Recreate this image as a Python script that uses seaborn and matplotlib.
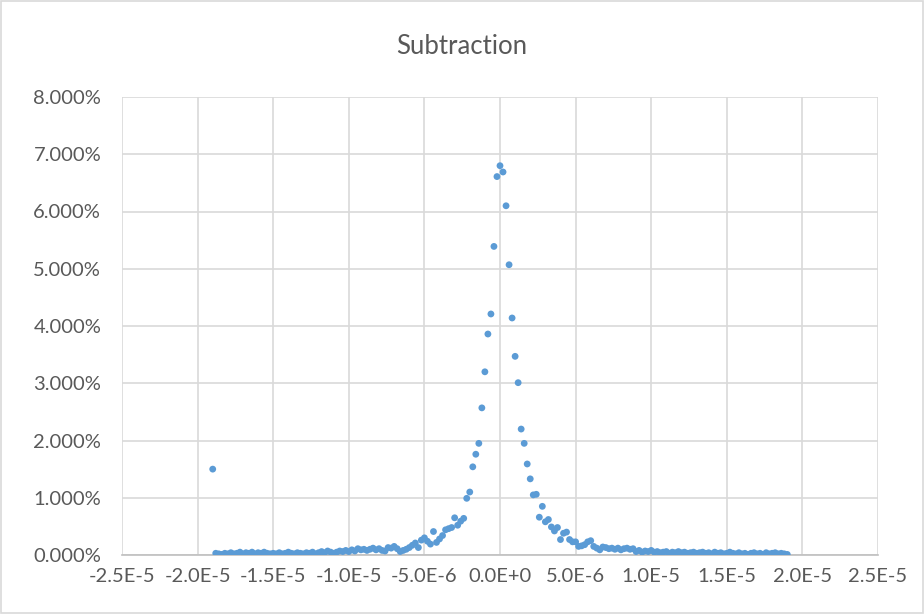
import matplotlib
matplotlib.use("Agg")
import matplotlib.pyplot as plt
import seaborn as sns
import pandas as pd
from matplotlib.patches import Rectangle

# ---- data (x in units of 1E-6, y in percent) ----
outlier_x = [-19.0]
outlier_y = [1.50]

left_tail_x = [-18.8, -18.6, -18.4, -18.2, -18.0, -17.8, -17.6, -17.4, -17.2, -17.0,
               -16.8, -16.6, -16.4, -16.2, -16.0, -15.8, -15.6, -15.4, -15.2, -15.0,
               -14.8, -14.6, -14.4, -14.2, -14.0, -13.8, -13.6, -13.4, -13.2, -13.0,
               -12.8, -12.6, -12.4, -12.2, -12.0, -11.8, -11.6, -11.4, -11.2, -11.0,
               -10.8, -10.6, -10.4, -10.2, -10.0, -9.8, -9.6, -9.4, -9.2, -9.0,
               -8.8, -8.6, -8.4, -8.2, -8.0, -7.8, -7.6, -7.4, -7.2, -7.0,
               -6.8, -6.6]
left_tail_y = [0.03, 0.02, 0.01, 0.03, 0.02, 0.04, 0.02, 0.03, 0.05, 0.02,
               0.04, 0.03, 0.05, 0.02, 0.04, 0.03, 0.05, 0.03, 0.02, 0.03,
               0.02, 0.04, 0.02, 0.03, 0.05, 0.03, 0.02, 0.04, 0.03, 0.02,
               0.04, 0.03, 0.05, 0.02, 0.04, 0.06, 0.04, 0.07, 0.05, 0.03,
               0.05, 0.07, 0.06, 0.08, 0.06, 0.09, 0.07, 0.11, 0.09, 0.10,
               0.08, 0.10, 0.12, 0.09, 0.11, 0.08, 0.07, 0.13, 0.12, 0.15,
               0.11, 0.06]

center_x = [-6.4, -6.2, -6.0, -5.8, -5.6, -5.4, -5.2, -5.0, -4.8, -4.6,
            -4.4, -4.2, -4.0, -3.8, -3.6, -3.4, -3.2, -3.0, -2.8, -2.6,
            -2.4, -2.2, -2.0, -1.8, -1.6, -1.4, -1.2, -1.0, -0.8, -0.6,
            -0.4, -0.2, 0.0, 0.2, 0.4, 0.6, 0.8, 1.0, 1.2, 1.4,
            1.6, 1.8, 2.0, 2.2, 2.4, 2.6, 2.8, 3.0, 3.2, 3.4,
            3.6, 3.8, 4.0, 4.2, 4.4, 4.6, 4.8, 5.0, 5.2, 5.4,
            5.6, 5.8, 6.0, 6.2, 6.4, 6.6]
center_y = [0.08, 0.10, 0.13, 0.17, 0.21, 0.13, 0.26, 0.30, 0.24, 0.19,
            0.41, 0.22, 0.28, 0.34, 0.44, 0.46, 0.48, 0.65, 0.52, 0.59,
            0.64, 0.99, 1.10, 1.54, 1.76, 1.95, 2.57, 3.20, 3.86, 4.21,
            5.39, 6.61, 6.80, 6.69, 6.10, 5.07, 4.14, 3.47, 3.01, 2.20,
            1.95, 1.59, 1.33, 1.05, 1.06, 0.66, 0.85, 0.58, 0.62, 0.49,
            0.42, 0.48, 0.27, 0.38, 0.40, 0.27, 0.23, 0.23, 0.15, 0.16,
            0.18, 0.23, 0.25, 0.15, 0.12, 0.09]

right_tail_x = [6.8, 7.0, 7.2, 7.4, 7.6, 7.8, 8.0, 8.2, 8.4, 8.6,
                8.8, 9.0, 9.2, 9.4, 9.6, 9.8, 10.0, 10.2, 10.4, 10.6,
                10.8, 11.0, 11.2, 11.4, 11.6, 11.8, 12.0, 12.2, 12.4, 12.6,
                12.8, 13.0, 13.2, 13.4, 13.6, 13.8, 14.0, 14.2, 14.4, 14.6,
                14.8, 15.0, 15.2, 15.4, 15.6, 15.8, 16.0, 16.2, 16.4, 16.6,
                16.8, 17.0, 17.2, 17.4, 17.6, 17.8, 18.0, 18.2, 18.4, 18.6,
                18.8, 19.0]
right_tail_y = [0.14, 0.13, 0.11, 0.12, 0.10, 0.12, 0.09, 0.11, 0.12, 0.10,
                0.11, 0.06, 0.08, 0.05, 0.07, 0.06, 0.08, 0.05, 0.06, 0.04,
                0.05, 0.06, 0.03, 0.05, 0.04, 0.06, 0.04, 0.05, 0.03, 0.04,
                0.05, 0.03, 0.04, 0.05, 0.03, 0.04, 0.02, 0.05, 0.03, 0.04,
                0.02, 0.03, 0.05, 0.03, 0.02, 0.04, 0.02, 0.03, 0.01, 0.03,
                0.04, 0.02, 0.03, 0.01, 0.04, 0.02, 0.03, 0.04, 0.02, 0.03,
                0.02, 0.01]

x_ticks = [-2.5e-5, -2.0e-5, -1.5e-5, -1.0e-5, -5.0e-6, 0.0, 5.0e-6, 1.0e-5, 1.5e-5, 2.0e-5, 2.5e-5]
x_tick_labels = ["-2.5E-5", "-2.0E-5", "-1.5E-5", "-1.0E-5", "-5.0E-6", "0.0E+0",
                 "5.0E-6", "1.0E-5", "1.5E-5", "2.0E-5", "2.5E-5"]
y_ticks = [0, 1, 2, 3, 4, 5, 6, 7, 8]
y_tick_labels = ["0.000%", "1.000%", "2.000%", "3.000%", "4.000%", "5.000%",
                 "6.000%", "7.000%", "8.000%"]
title = "Subtraction"

xs = outlier_x + left_tail_x + center_x + right_tail_x
ys = outlier_y + left_tail_y + center_y + right_tail_y
df = pd.DataFrame({"x": [v * 1e-6 for v in xs], "y": ys})

sns.set_style("white")
plt.rcParams["font.family"] = ["Lato", "DejaVu Sans"]

fig = plt.figure(figsize=(9.24, 6.14), dpi=100)
ax = fig.add_axes([122 / 924, (614 - 555) / 614, (878 - 122) / 924, (555 - 97) / 614])

sns.scatterplot(data=df, x="x", y="y", ax=ax, color="#5b9bd5", s=24,
                edgecolor="none", linewidth=0, zorder=3)

ax.set_xlim(-2.5e-5, 2.5e-5)
ax.set_ylim(0, 8)
ax.set_xticks(x_ticks)
ax.set_xticklabels(x_tick_labels)
ax.set_yticks(y_ticks)
ax.set_yticklabels(y_tick_labels)
ax.set_xlabel("")
ax.set_ylabel("")

ax.grid(True, color="#d9d9d9", linewidth=1.2, zorder=0)
ax.set_axisbelow(True)
for side in ["top", "right", "left"]:
    ax.spines[side].set_visible(False)
ax.spines["bottom"].set_color("#bfbfbf")
ax.spines["bottom"].set_linewidth(1.2)
ax.tick_params(axis="both", length=0, labelsize=14.5, colors="#595959")
ax.tick_params(axis="y", pad=15)
ax.tick_params(axis="x", pad=9)

fig.text(0.5, 1 - 46 / 614, title, ha="center", va="center", fontsize=18.5, color="#595959")

fig.patches.append(Rectangle((0.001, 0.001), 0.998, 0.997, transform=fig.transFigure,
                             fill=False, edgecolor="#d9d9d9", linewidth=1.2))

fig.savefig("out.png", dpi=100)
